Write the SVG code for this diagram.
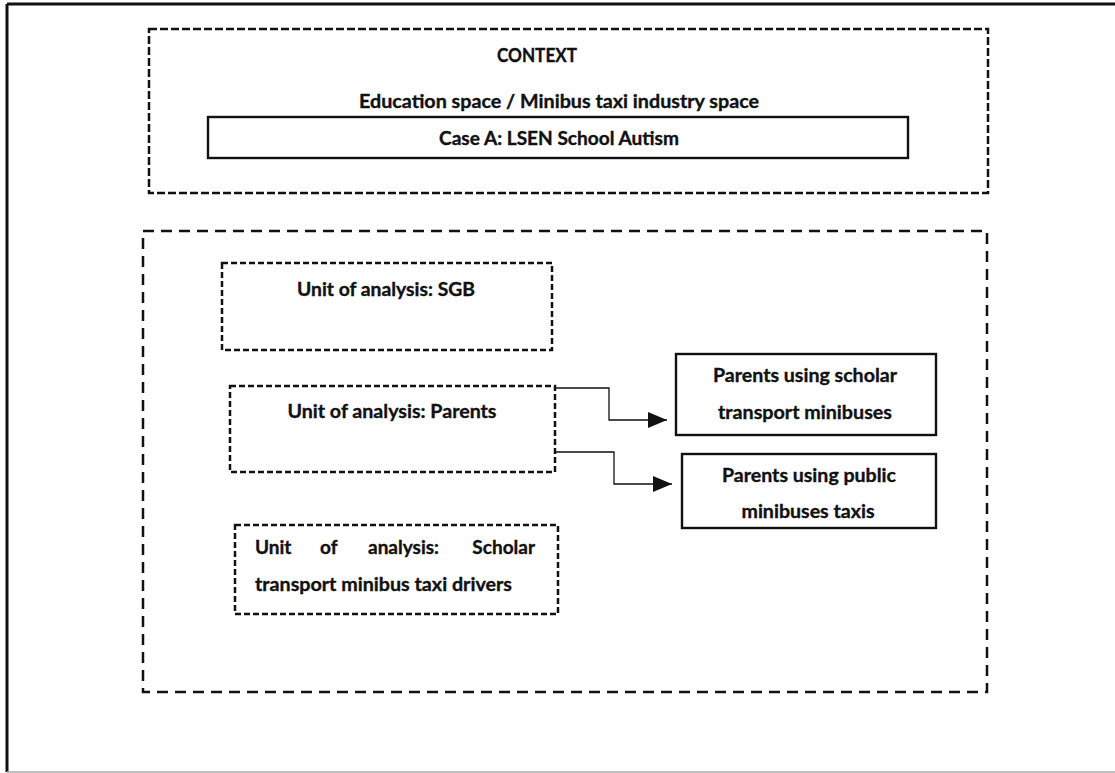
<svg xmlns="http://www.w3.org/2000/svg" width="1115" height="773" viewBox="0 0 1115 773">
  <style>
    .lbl { font-family: Lato, "Open Sans", "Liberation Sans", sans-serif; font-weight: 700; font-size: 19px; fill: #111; stroke: #111; stroke-width: 0.35; }
    .mid { text-anchor: middle; }
    .end { text-anchor: end; }
    .ctx { fill: none; stroke: #111; stroke-width: 2.5; stroke-dasharray: 8 3; }
    .big { fill: none; stroke: #111; stroke-width: 2.5; stroke-dasharray: 11 7; }
    .unit { fill: #fff; stroke: #111; stroke-width: 2.5; stroke-dasharray: 6 3; }
    .solid { fill: #fff; stroke: #111; stroke-width: 2.4; }
    .link { fill: none; stroke: #111; stroke-width: 1.3; }
  </style>
  <defs>
    <marker id="arrow" markerUnits="userSpaceOnUse" markerWidth="20" markerHeight="16" refX="19" refY="8" orient="auto">
      <path d="M0,0 L19,8 L0,16 Z" fill="#111"/>
    </marker>
  </defs>

  <rect width="1115" height="773" fill="#fff"/>

  <!-- page frame -->
  <g id="frame">
    <line x1="7" y1="4" x2="1115" y2="4" stroke="#111" stroke-width="3"/>
    <line x1="7" y1="4" x2="7" y2="772" stroke="#111" stroke-width="3"/>
    <line x1="7" y1="772" x2="1115" y2="772" stroke="#aaa" stroke-width="1.5"/>
  </g>

  <!-- context panel -->
  <g id="context">
    <rect class="ctx" x="149" y="29" width="839" height="164"/>
    <text class="lbl mid" x="537" y="62" textLength="80" lengthAdjust="spacingAndGlyphs">CONTEXT</text>
    <text class="lbl mid" x="559" y="108" textLength="400" lengthAdjust="spacingAndGlyphs">Education space / Minibus taxi industry space</text>
  </g>

  <g id="case-a">
    <rect class="solid" x="208" y="117" width="700" height="41"/>
    <text class="lbl mid" x="559" y="145" textLength="240" lengthAdjust="spacingAndGlyphs">Case A: LSEN School Autism</text>
  </g>

  <!-- units of analysis panel -->
  <g id="units-panel">
    <rect class="big" x="143" y="231" width="844" height="461"/>
  </g>

  <g id="unit-sgb">
    <rect class="unit" x="222" y="263" width="330" height="87"/>
    <text class="lbl mid" x="386" y="296" textLength="178" lengthAdjust="spacingAndGlyphs">Unit of analysis: SGB</text>
  </g>

  <g id="unit-parents">
    <rect class="unit" x="230" y="386" width="325" height="86"/>
    <text class="lbl mid" x="392" y="418" textLength="209" lengthAdjust="spacingAndGlyphs">Unit of analysis: Parents</text>
  </g>

  <g id="unit-drivers">
    <rect class="unit" x="235" y="525" width="323" height="89"/>
    <text class="lbl" x="255" y="554">Unit</text>
    <text class="lbl" x="320" y="554">of</text>
    <text class="lbl" x="368" y="554">analysis:</text>
    <text class="lbl end" x="535" y="554">Scholar</text>
    <text class="lbl" x="255" y="591" textLength="257" lengthAdjust="spacingAndGlyphs">transport minibus taxi drivers</text>
  </g>

  <g id="parents-scholar">
    <rect class="solid" x="676" y="354" width="260" height="81"/>
    <text class="lbl mid" x="805" y="382" textLength="184" lengthAdjust="spacingAndGlyphs">Parents using scholar</text>
    <text class="lbl mid" x="805" y="419" textLength="174" lengthAdjust="spacingAndGlyphs">transport minibuses</text>
  </g>

  <g id="parents-public">
    <rect class="solid" x="682" y="454" width="254" height="74"/>
    <text class="lbl mid" x="809" y="482" textLength="174" lengthAdjust="spacingAndGlyphs">Parents using public</text>
    <text class="lbl mid" x="808" y="518" textLength="133" lengthAdjust="spacingAndGlyphs">minibuses taxis</text>
  </g>

  <!-- connectors -->
  <g id="connectors">
    <path class="link" d="M555,388 H609 V420 H667" marker-end="url(#arrow)"/>
    <path class="link" d="M555,452 H614 V484 H672" marker-end="url(#arrow)"/>
  </g>
</svg>
